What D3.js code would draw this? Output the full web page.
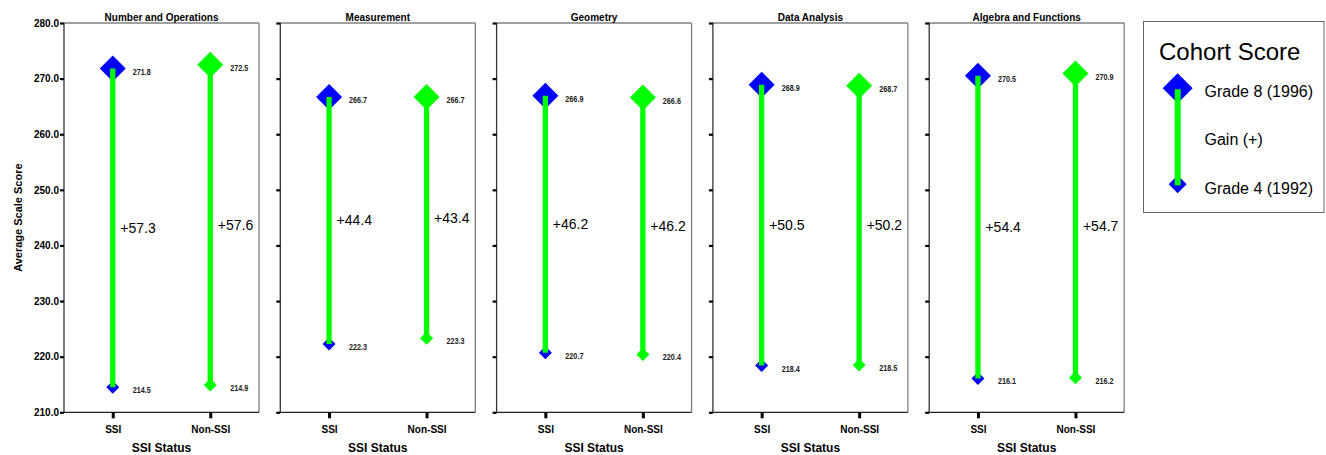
<!DOCTYPE html>
<html>
<head>
<meta charset="utf-8">
<script src="https://cdn.jsdelivr.net/npm/d3@7"></script>
<style>
  html, body { margin: 0; padding: 0; background: #fff; }
  svg { display: block; }
  text { font-family: "Liberation Sans", Arial, sans-serif; fill: #000; }
</style>
</head>
<body>
<svg id="chart" width="1326" height="455"></svg>
<script>
// ---- data ----
const subjects = ["Number and Operations", "Measurement", "Geometry", "Data Analysis", "Algebra and Functions"];
const categories = ["SSI", "Non-SSI"];
const grade8SSI = [271.8, 266.7, 266.9, 268.9, 270.5];
const grade8NonSSI = [272.5, 266.7, 266.6, 268.7, 270.9];
const grade4SSI = [214.5, 222.3, 220.7, 218.4, 216.1];
const grade4NonSSI = [214.9, 223.3, 220.4, 218.5, 216.2];
const gainSSI = ["+57.3", "+44.4", "+46.2", "+50.5", "+54.4"];
const gainNonSSI = ["+57.6", "+43.4", "+46.2", "+50.2", "+54.7"];
const yTicks = [210, 220, 230, 240, 250, 260, 270, 280];
const legendTitle = "Cohort Score";
const legendLabels = ["Grade 8 (1996)", "Gain (+)", "Grade 4 (1992)"];
const yTitle = "Average Scale Score";
const xTitle = "SSI Status";

// ---- layout ----
const BLUE = "#0000ff", GREEN = "#00ff00";
const plotTop = 23, plotBottom = 412.3;
const panelX0 = 64, panelStep = 216.3, panelW = 195;
const svg = d3.select("#chart");

const y = d3.scaleLinear().domain([210, 280]).range([plotBottom, plotTop]);
const diamond = (cx, cy, r) => `M${cx},${cy - r}L${cx + r},${cy}L${cx},${cy + r}L${cx - r},${cy}Z`;

function valueLabel(g, x, yy, txt) {
  g.append("text")
    .attr("transform", `translate(${x},${yy}) scale(0.85,1)`)
    .style("font-size", "8.5px").style("font-weight", "bold").style("fill", "#222")
    .text(txt);
}

subjects.forEach((subj, i) => {
  const x0 = panelX0 + i * panelStep;
  const x1 = x0 + panelW;
  const g = svg.append("g");
  const x = d3.scalePoint().domain(categories).range([x0, x1]).padding(0.5);

  // frame
  g.append("line").attr("x1", x0).attr("x2", x1).attr("y1", plotTop).attr("y2", plotTop)
    .attr("stroke", "#808080").attr("stroke-width", 1.3);
  g.append("line").attr("x1", x1).attr("x2", x1).attr("y1", plotTop).attr("y2", plotBottom)
    .attr("stroke", "#808080").attr("stroke-width", 1.3);
  g.append("line").attr("x1", x0).attr("x2", x0).attr("y1", plotTop).attr("y2", plotBottom)
    .attr("stroke", "#333").attr("stroke-width", 1.3);
  g.append("line").attr("x1", x0).attr("x2", x1).attr("y1", plotBottom).attr("y2", plotBottom)
    .attr("stroke", "#222").attr("stroke-width", 1.3);

  // y axis
  const yAxis = d3.axisLeft(y).tickValues(yTicks).tickSize(4).tickPadding(1)
    .tickFormat(i === 0 ? d3.format(".1f") : () => "");
  const ya = g.append("g").attr("transform", `translate(${x0},0)`).call(yAxis);
  ya.select(".domain").remove();
  ya.selectAll(".tick line").attr("stroke", "#000").attr("stroke-width", 2.2);
  ya.selectAll(".tick text").style("font-weight", "bold").style("font-size", "10px")
    .style("font-family", '"Liberation Sans", Arial, sans-serif');

  // x axis
  const xAxis = d3.axisBottom(x).tickSize(6).tickPadding(8);
  const xa = g.append("g").attr("transform", `translate(0,${plotBottom})`).call(xAxis);
  xa.select(".domain").remove();
  xa.selectAll(".tick line").attr("stroke", "#000").attr("stroke-width", 3);
  xa.selectAll(".tick text").style("font-weight", "bold").style("font-size", "10px")
    .style("font-family", '"Liberation Sans", Arial, sans-serif');

  // title
  g.append("text").attr("x", (x0 + x1) / 2).attr("y", 20.5).attr("text-anchor", "middle")
    .style("font-weight", "bold").style("font-size", "10px").text(subj);

  // x title
  g.append("text").attr("x", (x0 + x1) / 2).attr("y", 452).attr("text-anchor", "middle")
    .style("font-weight", "bold").style("font-size", "12px").text(xTitle);

  const rows = [
    { cat: "SSI", g8: grade8SSI[i], g4: grade4SSI[i], gain: gainSSI[i], color: BLUE },
    { cat: "Non-SSI", g8: grade8NonSSI[i], g4: grade4NonSSI[i], gain: gainNonSSI[i], color: GREEN }
  ];

  rows.forEach(r => {
    const cx = x(r.cat);
    g.append("path").attr("d", diamond(cx, y(r.g8), 13)).attr("fill", r.color);
    g.append("path").attr("d", diamond(cx, y(r.g4), 6.5)).attr("fill", r.color);
    g.append("line").attr("x1", cx).attr("x2", cx).attr("y1", y(r.g8)).attr("y2", y(r.g4))
      .attr("stroke", GREEN).attr("stroke-width", 5.3);
    valueLabel(g, cx + 20, y(r.g8) + 6, r.g8.toFixed(1));
    valueLabel(g, cx + 20, y(r.g4) + 6, r.g4.toFixed(1));
    g.append("text").attr("x", cx + 7.5).attr("y", (y(r.g8) + y(r.g4)) / 2 + 5)
      .style("font-size", "14px").text(r.gain);
  });
});

// y axis title
svg.append("text").attr("transform", `translate(22,${(plotTop + plotBottom) / 2}) rotate(-90)`)
  .attr("text-anchor", "middle").style("font-weight", "bold").style("font-size", "11px").text(yTitle);

// legend
const lg = svg.append("g");
lg.append("rect").attr("x", 1143.5).attr("y", 21.5).attr("width", 180.5).attr("height", 191)
  .attr("fill", "#fff").attr("stroke", "#666").attr("stroke-width", 1);
lg.append("text").attr("x", 1159).attr("y", 60).style("font-size", "24px").text(legendTitle);
const lx = 1177.7, ly8 = 88.3, ly4 = 184.3;
lg.append("path").attr("d", diamond(lx, ly8, 15)).attr("fill", BLUE);
lg.append("path").attr("d", diamond(lx, ly4, 9)).attr("fill", BLUE);
lg.append("line").attr("x1", lx).attr("x2", lx).attr("y1", ly8 + 1).attr("y2", ly4 + 1)
  .attr("stroke", GREEN).attr("stroke-width", 6);
const legY = [96.5, 144.5, 194];
legendLabels.forEach((t, k) => {
  lg.append("text").attr("x", 1204.5).attr("y", legY[k]).style("font-size", "16px").text(t);
});
</script>
</body>
</html>
